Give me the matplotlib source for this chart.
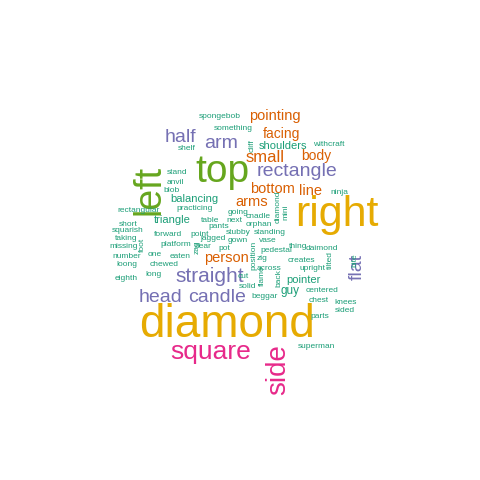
import matplotlib
matplotlib.use("Agg")
import matplotlib.pyplot as plt

words = ["diamond","right","top","left","square","side","straight","head","candle","rectangle",
         "half","arm","flat","pointing","facing","small","body","bottom","line","arms","person",
         "spongebob","something","shelf","stand","anvil","blob","balancing","rectangular","practicing",
         "going","triangle","table","pants","short","squarish","forward","point","stubby","standing",
         "jagged","gown","vase","taking","missing","foot","platform","near","pot","one","number",
         "eaten","loong","chewed","long","eighth","cut","solid","zag","shoulders","withcraft","cliff",
         "ninja","diamond","mini","cnadle","next","orphan","position","pedestal","thing","daimond",
         "zig","creates","tilted","bite","across","upright","flame","back","pointer","guy","centered",
         "beggar","chest","knees","sided","parts","superman"]
xs = [227,337,222,150,211,278,210,160,217,297,180,221,357,275,281,265,316,272,311,252,226,
      220,233,187,177,175,172,194,139,195,238,172,210,219,128,128,168,200,238,270,213,238,268,
      126,124,142,176,203,224,155,127,180,127,164,154,126,243,248,197,283,329,252,339,278,286,
      258,234,259,254,276,298,322,262,301,330,355,269,313,262,279,303,290,322,265,319,346,345,
      320,316]
ys = [325,215,172,190,352,370,276,297,298,172,137,144,267,116,134,157,156,189,191,202,258,
      117,128,149,172,183,190,199,210,208,212,220,220,227,224,231,235,234,232,233,239,240,241,
      239,247,245,244,246,249,254,257,257,265,265,274,278,277,287,247,146,144,146,192,207,212,
      216,221,224,255,251,247,248,259,260,260,260,268,268,276,278,280,291,291,297,300,302,310,
      317,347]
big_sizes = {"diamond":33,"right":31,"top":28,"left":27,"square":19,"side":20,"straight":15,
             "head":14,"candle":14,"rectangle":14,"half":14,"arm":14,"flat":14,"pointing":10.5,
             "facing":10,"small":12,"body":10,"bottom":10.5,"line":10.5,"arms":10.5,"person":10.5,
             "balancing":8,"triangle":8,"shoulders":8,"pointer":8,"guy":8.5}
vert_idx = {3,5,12,45,58,61,63,64,68,74,75,78,79}
colors_big = {"diamond":"#E6AB02","right":"#E6AB02","top":"#66A61E","left":"#66A61E",
              "square":"#E7298A","side":"#E7298A"}
purple = {"straight","head","candle","rectangle","half","arm","flat"}
orange = {"pointing","facing","small","body","bottom","line","arms","person"}

fig = plt.figure(figsize=(4.8,4.8), dpi=100)
ax = fig.add_axes([0,0,1,1])
ax.set_xlim(0,480); ax.set_ylim(480,0); ax.axis("off")
for i,(w,x,y) in enumerate(zip(words,xs,ys)):
    s = big_sizes.get(w,6) if i < 63 or w != "diamond" else 6
    if i < 6: c = colors_big[w]
    elif w in purple: c = "#7570B3"
    elif w in orange: c = "#D95F02"
    else: c = "#1B9E77"
    rot = 90 if i in vert_idx else 0
    ax.text(x,y,w,fontsize=s,color=c,rotation=rot,ha="center",va="center",
            family="Liberation Sans")
fig.savefig("out.png", dpi=100)
